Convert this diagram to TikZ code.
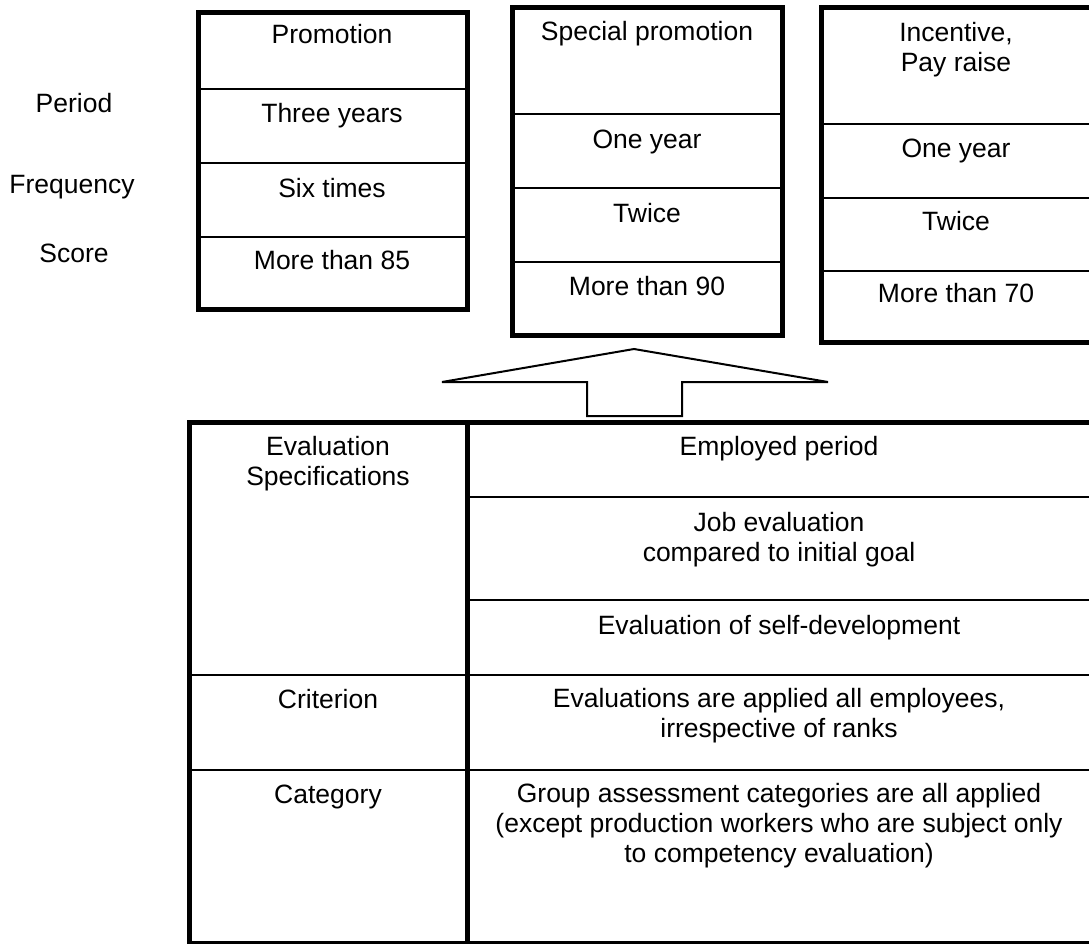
\documentclass[tikz,border=0pt]{standalone}
\usepackage{fontspec}
\setmainfont{Liberation Sans}
\usetikzlibrary{positioning}

\begin{document}
\begin{tikzpicture}[x=1pt, y=-1pt, font=\fontsize{26.5}{30}\selectfont,
    frame/.style={line width=5pt},
    rule/.style={line width=2.2pt},
    lbl/.style={anchor=base, align=center, inner sep=0pt}]
  \useasboundingbox[fill=white] (0,0) rectangle (1089,943);

  % Row labels on the left
  \node[lbl] (period) at (74,112) {Period};
  \node[lbl] (freq) at (72,193) {Frequency};
  \node[lbl] (score) at (74,262) {Score};

  % Promotion
  \draw[rule] (198,89) -- (467,89) (198,163) -- (467,163) (198,237) -- (467,237);
  \draw[frame] (198,12) rectangle (467,309);
  \node[lbl] (promo) at (332,43) {Promotion};
  \node[lbl] (promoper) at (332,122) {Three years};
  \node[lbl] (promofreq) at (332,197) {Six times};
  \node[lbl] (promoscore) at (332,269) {More than 85};

  % Special promotion
  \draw[rule] (512,114) -- (782,114) (512,188) -- (782,188) (512,262) -- (782,262);
  \draw[frame] (512,7) rectangle (782,335);
  \node[lbl] (spec) at (647,40) {Special promotion};
  \node[lbl] (specper) at (647,148) {One year};
  \node[lbl] (specfreq) at (647,222) {Twice};
  \node[lbl] (specscore) at (647,295) {More than 90};

  % Incentive, pay raise (last line sits on the base anchor)
  \draw[rule] (821,124) -- (1091,124) (821,198) -- (1091,198) (821,271) -- (1091,271);
  \draw[frame] (821,7) rectangle (1091,342);
  \node[lbl] (inc) at (956,71) {Incentive,\\Pay raise};
  \node[lbl] (incper) at (956,157) {One year};
  \node[lbl] (incfreq) at (956,230) {Twice};
  \node[lbl] (incscore) at (956,302) {More than 70};

  % Hollow block arrow
  \draw[line width=2pt, line join=miter] (442,382) -- (634,349) -- (828,382) -- (682,382)
    -- (682,416) -- (587,416) -- (587,382) -- cycle;

  % Evaluation table
  \draw[rule] (467,497) -- (1091,497) (467,600) -- (1091,600)
    (189,675) -- (1091,675) (189,770) -- (1091,770);
  \draw[frame] (189,422) rectangle (1091,943);
  \draw[frame] (467,422) -- (467,943);

  \node[lbl] (evalspec) at (328,485) {Evaluation\\Specifications};
  \node[lbl] (crit) at (328,708) {Criterion};
  \node[lbl] (cat) at (328,803) {Category};

  \node[lbl] (employed) at (779,455) {Employed period};
  \node[lbl] (jobeval) at (779,561) {Job evaluation\\compared to initial goal};
  \node[lbl] (selfdev) at (779,634) {Evaluation of self-development};
  \node[lbl] (critdesc) at (779,737) {Evaluations are applied all employees,\\irrespective of ranks};
  \node[lbl] (catdesc) at (779,862) {Group assessment categories are all applied\\(except production workers who are subject only\\to competency evaluation)};
\end{tikzpicture}
\end{document}
